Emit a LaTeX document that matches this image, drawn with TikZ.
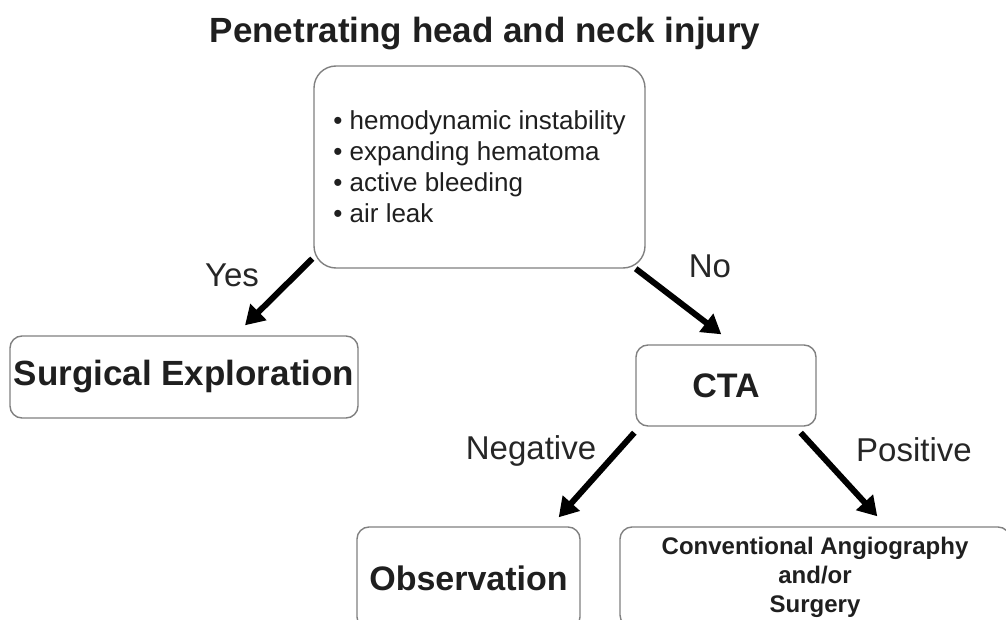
\documentclass[tikz,border=0pt]{standalone}
\usepackage{fontspec}
\setmainfont{Liberation Sans}
\usetikzlibrary{arrows.meta,calc}
\tikzstyle{box}=[draw=black!50, line width=1.4pt, rounded corners=12pt, inner sep=0pt, text=black!88]
\tikzstyle{bigtext}=[font=\fontsize{34}{36}\selectfont\bfseries]
\tikzstyle{arrowline}=[draw, line width=6pt, -{Triangle[length=19pt,width=22pt]}]
\tikzstyle{branch}=[font=\fontsize{33}{33}\selectfont, text=black!85, anchor=base]

\begin{document}
\begin{tikzpicture}[x=1pt, y=-1pt]

    \useasboundingbox (0,0) rectangle (1006,620);
    \clip (0,0) rectangle (1006,620);

    \node[anchor=base, font=\fontsize{35}{36}\selectfont\bfseries, text=black!88] (title) at (485,43) {Penetrating head and neck injury};

    \node[box, rounded corners=22pt, minimum width=331pt, minimum height=202pt, align=left, font=\fontsize{26}{31}\selectfont] (signs) at (479.5,167)
        {\textbullet\ hemodynamic instability\\ \textbullet\ expanding hematoma\\ \textbullet\ active bleeding\\ \textbullet\ air leak};

    \node[box, bigtext, font=\fontsize{35}{36}\selectfont\bfseries, minimum width=348pt, minimum height=82pt] (surg) at (184,377) {Surgical Exploration};
    \node[box, bigtext, minimum width=180pt, minimum height=81pt] (cta) at (726,385.5) {CTA};
    \node[box, bigtext, minimum width=223pt, minimum height=102pt] (obs) at (468.5,578) {Observation};
    \node[box, align=center, font=\fontsize{24}{29}\selectfont\bfseries, minimum width=390pt, minimum height=100pt] (conv) at (815,577)
        {Conventional Angiography\\ and/or\\ Surgery};

    \draw[arrowline] ($(signs.south west)+(-1,-10)$) -- ($(surg.north)+(61,-10)$);
    \draw[arrowline] ($(signs.south east)+(-10,0)$) -- ($(cta.north west)+(86,-10)$);
    \draw[arrowline] ($(cta.south west)+(-1,6)$) -- ($(obs.north east)+(-22,-9)$);
    \draw[arrowline] ($(cta.south east)+(-16,6)$) -- ($(conv.north west)+(258,-10)$);

    \node[branch] (yes) at (232,287) {Yes};
    \node[branch] (no) at (710,277) {No};
    \node[branch] (neg) at (531,459) {Negative};
    \node[branch] (pos) at (914,461) {Positive};

\end{tikzpicture}
\end{document}
